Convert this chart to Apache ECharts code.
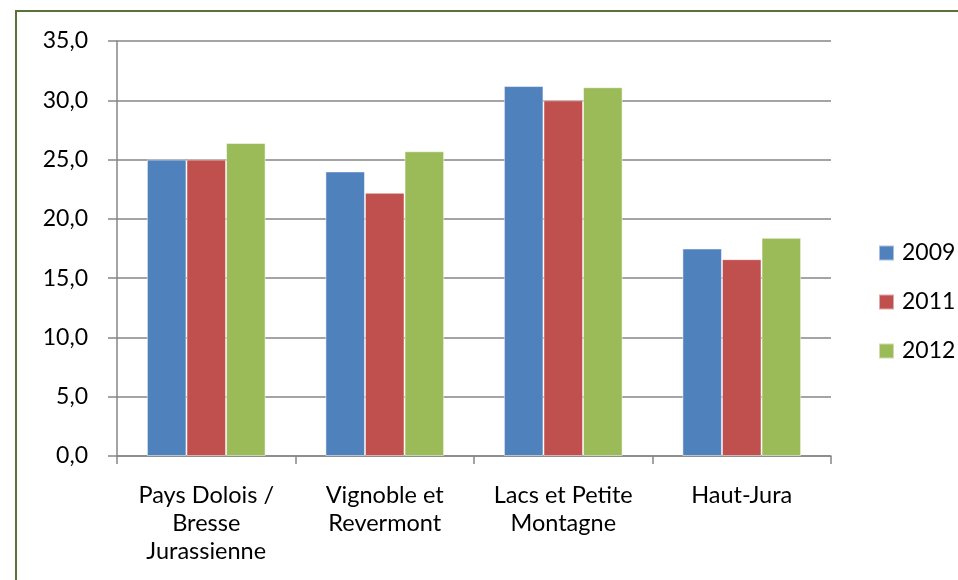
<!DOCTYPE html>
<html>
<head>
<meta charset="utf-8">
<script src="https://cdn.jsdelivr.net/npm/echarts@6/dist/echarts.min.js"></script>
<style>
html,body{margin:0;padding:0;background:#fff;}
#frame{position:absolute;left:15px;top:10px;width:960px;height:580px;border-left:2px solid #5B7236;border-top:2px solid #5B7236;box-sizing:border-box;}
#chart{position:absolute;left:0;top:0;width:958px;height:580px;}
</style>
</head>
<body>
<div id="frame"></div>
<div id="chart"></div>
<script>
var categories = ["Pays Dolois /\nBresse\nJurassienne", "Vignoble et\nRevermont", "Lacs et Petite\nMontagne", "Haut-Jura"];
var seriesNames = ["2009", "2011", "2012"];
var values2009 = [25.0, 24.0, 31.2, 17.5];
var values2011 = [25.0, 22.2, 30.0, 16.6];
var values2012 = [26.4, 25.7, 31.1, 18.4];
var yTicks = [0, 5, 10, 15, 20, 25, 30, 35];

var colors = ["#4F81BD", "#C0504D", "#9BBB59"];
var allValues = [values2009, values2011, values2012];
var font = "Lato, 'Open Sans', sans-serif";

var chart = echarts.init(document.getElementById('chart'), null, {renderer: 'canvas'});
chart.setOption({
  animation: false,
  color: colors,
  grid: {left: 117, right: 127, top: 41, bottom: 124, containLabel: false},
  legend: {
    orient: 'vertical',
    left: 873,
    top: 236,
    itemWidth: 15,
    itemHeight: 15,
    itemGap: 25,
    icon: 'rect',
    textStyle: {fontFamily: font, fontSize: 23, color: '#000', lineHeight: 24, padding: [0,0,0,3]},
    data: seriesNames
  },
  xAxis: {
    type: 'category',
    data: categories,
    axisLine: {lineStyle: {color: '#868686', width: 1.5}},
    axisTick: {show: true, length: 8, lineStyle: {color: '#868686', width: 1.5}},
    axisLabel: {fontFamily: font, fontSize: 23.5, color: '#000', lineHeight: 28, margin: 25, interval: 0}
  },
  yAxis: {
    type: 'value',
    min: yTicks[0],
    max: yTicks[yTicks.length - 1],
    interval: 5,
    axisLine: {show: true, lineStyle: {color: '#868686', width: 1.5}},
    axisTick: {show: true, length: 9, lineStyle: {color: '#868686', width: 1.5}},
    splitLine: {lineStyle: {color: '#868686', width: 1.5}},
    axisLabel: {fontFamily: font, fontSize: 23, color: '#000', margin: 29,
      formatter: function (v) { return v.toFixed(1).replace('.', ','); }}
  },
  series: seriesNames.map(function (name, i) {
    return {
      name: name,
      type: 'bar',
      data: allValues[i],
      barGap: '0%',
      barCategoryGap: '33.5%',
      itemStyle: {color: colors[i], borderColor: 'rgba(255,255,255,0.5)', borderWidth: 1}
    };
  })
});
</script>
</body>
</html>
